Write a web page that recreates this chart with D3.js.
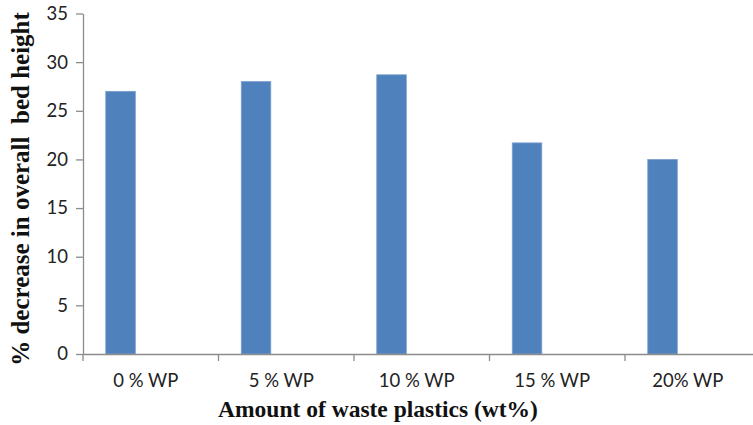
<!DOCTYPE html>
<html>
<head>
<meta charset="utf-8">
<script src="https://cdn.jsdelivr.net/npm/d3@7/dist/d3.min.js"></script>
<style>
  html, body { margin: 0; padding: 0; background: #fff; }
  svg { display: block; }
  .tick text { font-family: Lato, "Open Sans", sans-serif; fill: #222; }
</style>
</head>
<body>
<svg id="chart" width="753" height="425"></svg>
<script>
// Categories (amount of waste plastic) and the measured decrease in bed height
const categories = ["0 % WP", "5 % WP", "10 % WP", "15 % WP", "20% WP"];
const decreaseValues = [27.0, 28.0, 28.7, 21.7, 20.0];
const yTicks = [0, 5, 10, 15, 20, 25, 30, 35];

const svg = d3.select("#chart");
const plot = { left: 83, right: 760.5, top: 13.5, bottom: 354 };
const axisColor = "#8c8c8c";

const x = d3.scaleBand().domain(categories).range([plot.left, plot.right]).padding(0);
const y = d3.scaleLinear().domain([0, 35]).range([plot.bottom, plot.top]);

// Bars sit in the left part of each category slot
const bw = x.bandwidth();
svg.append("g")
  .selectAll("rect")
  .data(categories)
  .join("rect")
  .attr("x", d => x(d) + bw * 0.168)
  .attr("width", bw * 0.218)
  .attr("y", (d, i) => y(decreaseValues[i]))
  .attr("height", (d, i) => y(0) - y(decreaseValues[i]))
  .attr("fill", "#4f81bd")
  .attr("stroke", "#7b9fcf")
  .attr("stroke-width", 0.8);

// Y axis
const yAxis = svg.append("g")
  .attr("transform", `translate(${plot.left},0)`)
  .call(d3.axisLeft(y).tickValues(yTicks).tickSize(7).tickPadding(8).tickSizeOuter(0));
yAxis.select(".domain").attr("stroke", axisColor).attr("stroke-width", 1.3);
yAxis.selectAll(".tick line").attr("stroke", axisColor).attr("stroke-width", 1.3);
yAxis.selectAll(".tick text").attr("font-size", 18.5);

// X axis: ticks mark the category boundaries
const xAxis = svg.append("g")
  .attr("transform", `translate(0,${plot.bottom})`)
  .call(d3.axisBottom(x).tickSize(0).tickPadding(20).tickSizeOuter(0));
xAxis.select(".domain").attr("stroke", axisColor).attr("stroke-width", 1.3);
xAxis.selectAll(".tick text").attr("font-size", 18.5).attr("dx", -5);
xAxis.selectAll(".boundary")
  .data(categories)
  .join("line")
  .attr("class", "boundary")
  .attr("x1", d => x(d)).attr("x2", d => x(d))
  .attr("y1", 0).attr("y2", 7)
  .attr("stroke", axisColor).attr("stroke-width", 1.3);

// Axis titles
svg.append("text")
  .attr("x", 378).attr("y", 417)
  .attr("text-anchor", "middle")
  .attr("font-family", "'Liberation Serif', 'Times New Roman', serif")
  .attr("font-weight", "bold")
  .attr("font-size", 23.5)
  .attr("fill", "#111")
  .text("Amount of waste plastics (wt%)");

svg.append("text")
  .attr("transform", "translate(29,189) rotate(-90)")
  .attr("text-anchor", "middle")
  .attr("font-family", "'Liberation Serif', 'Times New Roman', serif")
  .attr("font-weight", "bold")
  .attr("font-size", 25)
  .attr("fill", "#111")
  .attr("xml:space", "preserve")
  .style("white-space", "pre")
  .text("% decrease in overall  bed height");
</script>
</body>
</html>
